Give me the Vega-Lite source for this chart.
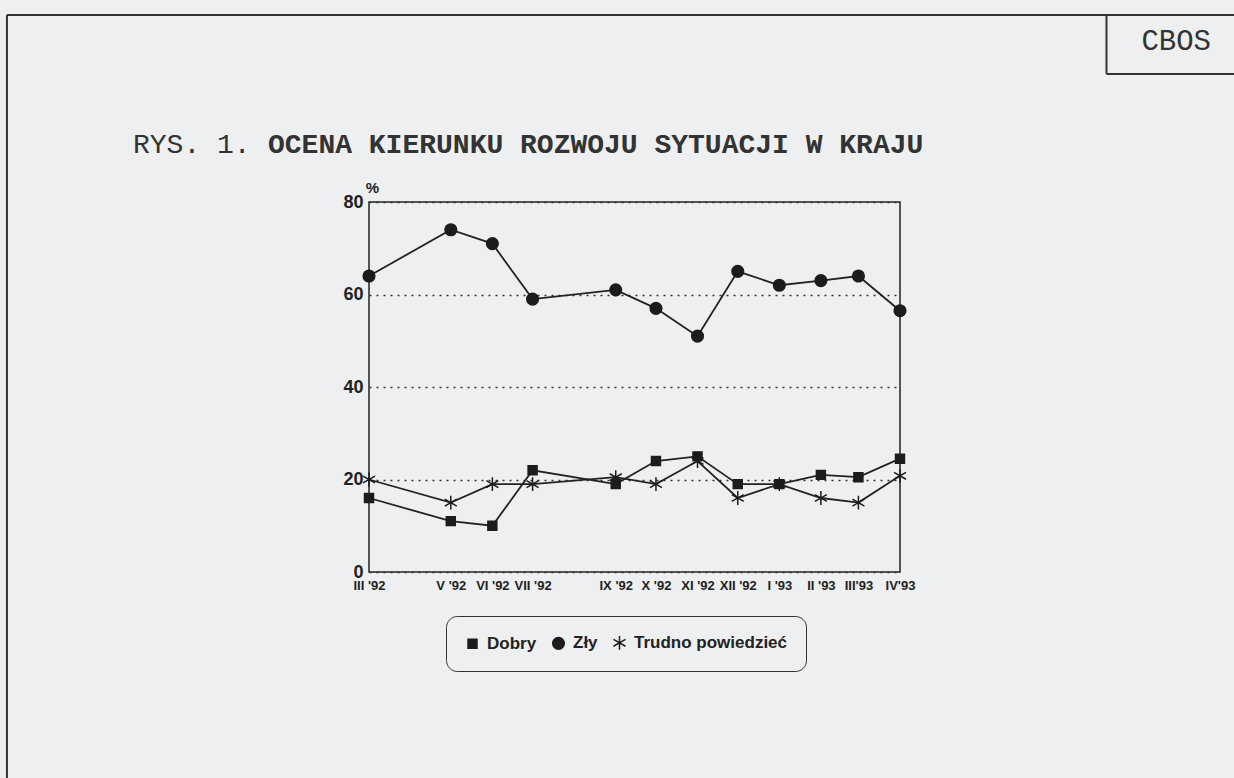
{
  "$schema": "https://vega.github.io/schema/vega-lite/v6.json",
  "width": 531,
  "height": 370,
  "autosize": {"type": "none"},
  "padding": {"left": 369, "top": 202, "right": 334, "bottom": 206},
  "background": "#edeff0",
  "title": {
    "text": "OCENA KIERUNKU ROZWOJU SYTUACJI W KRAJU",
    "anchor": "start",
    "frame": "group",
    "font": "Liberation Mono",
    "fontSize": 28,
    "fontWeight": "bold",
    "color": "#333",
    "dx": -101,
    "dy": 165,
    "offset": 20
  },
  "data": {
    "values": [
      {"date": "1992-03-01T00:00", "series": "Dobry", "value": 16},
      {"date": "1992-05-01T00:00", "series": "Dobry", "value": 11},
      {"date": "1992-06-01T00:00", "series": "Dobry", "value": 10},
      {"date": "1992-07-01T00:00", "series": "Dobry", "value": 22},
      {"date": "1992-09-01T00:00", "series": "Dobry", "value": 19},
      {"date": "1992-10-01T00:00", "series": "Dobry", "value": 24},
      {"date": "1992-11-01T00:00", "series": "Dobry", "value": 25},
      {"date": "1992-12-01T00:00", "series": "Dobry", "value": 19},
      {"date": "1993-01-01T00:00", "series": "Dobry", "value": 19},
      {"date": "1993-02-01T00:00", "series": "Dobry", "value": 21},
      {"date": "1993-03-01T00:00", "series": "Dobry", "value": 20.5},
      {"date": "1993-04-01T00:00", "series": "Dobry", "value": 24.5},
      {"date": "1992-03-01T00:00", "series": "Zły", "value": 64},
      {"date": "1992-05-01T00:00", "series": "Zły", "value": 74},
      {"date": "1992-06-01T00:00", "series": "Zły", "value": 71},
      {"date": "1992-07-01T00:00", "series": "Zły", "value": 59},
      {"date": "1992-09-01T00:00", "series": "Zły", "value": 61},
      {"date": "1992-10-01T00:00", "series": "Zły", "value": 57},
      {"date": "1992-11-01T00:00", "series": "Zły", "value": 51},
      {"date": "1992-12-01T00:00", "series": "Zły", "value": 65},
      {"date": "1993-01-01T00:00", "series": "Zły", "value": 62},
      {"date": "1993-02-01T00:00", "series": "Zły", "value": 63},
      {"date": "1993-03-01T00:00", "series": "Zły", "value": 64},
      {"date": "1993-04-01T00:00", "series": "Zły", "value": 56.5},
      {"date": "1992-03-01T00:00", "series": "Trudno powiedzieć", "value": 20},
      {"date": "1992-05-01T00:00", "series": "Trudno powiedzieć", "value": 15},
      {"date": "1992-06-01T00:00", "series": "Trudno powiedzieć", "value": 19},
      {"date": "1992-07-01T00:00", "series": "Trudno powiedzieć", "value": 19},
      {"date": "1992-09-01T00:00", "series": "Trudno powiedzieć", "value": 20.5},
      {"date": "1992-10-01T00:00", "series": "Trudno powiedzieć", "value": 19},
      {"date": "1992-11-01T00:00", "series": "Trudno powiedzieć", "value": 24},
      {"date": "1992-12-01T00:00", "series": "Trudno powiedzieć", "value": 16},
      {"date": "1993-01-01T00:00", "series": "Trudno powiedzieć", "value": 19},
      {"date": "1993-02-01T00:00", "series": "Trudno powiedzieć", "value": 16},
      {"date": "1993-03-01T00:00", "series": "Trudno powiedzieć", "value": 15},
      {"date": "1993-04-01T00:00", "series": "Trudno powiedzieć", "value": 20.8}
    ]
  },
  "layer": [
    {
      "mark": {"type": "line", "color": "#222", "strokeWidth": 1.8},
      "encoding": {
        "x": {
          "field": "date",
          "type": "temporal",
          "scale": {"domain": [{"year": 1992, "month": 3, "date": 1}, {"year": 1993, "month": 4, "date": 1}], "nice": false},
          "axis": {
            "title": null,
            "values": [
              {"year": 1992, "month": 3, "date": 1},
              {"year": 1992, "month": 5, "date": 1},
              {"year": 1992, "month": 6, "date": 1},
              {"year": 1992, "month": 7, "date": 1},
              {"year": 1992, "month": 9, "date": 1},
              {"year": 1992, "month": 10, "date": 1},
              {"year": 1992, "month": 11, "date": 1},
              {"year": 1992, "month": 12, "date": 1},
              {"year": 1993, "month": 1, "date": 1},
              {"year": 1993, "month": 2, "date": 1},
              {"year": 1993, "month": 3, "date": 1},
              {"year": 1993, "month": 4, "date": 1}
            ],
            "labelExpr": "['I','II','III','IV','V','VI','VII','VIII','IX','X','XI','XII'][month(datum.value)] + ((year(datum.value) == 1993 && month(datum.value) >= 2) ? \"'\" : \" '\") + timeFormat(datum.value, '%y')",
            "grid": false,
            "ticks": false,
            "domain": false,
            "labelFont": "Liberation Sans",
            "labelFontSize": 13,
            "labelFontWeight": "bold",
            "labelColor": "#222",
            "labelPadding": 7,
            "labelOverlap": false,
            "labelFlush": false
          }
        },
        "y": {
          "field": "value",
          "type": "quantitative",
          "scale": {"domain": [0, 80], "nice": false},
          "axis": {
            "title": "%",
            "titleAngle": 0,
            "titleX": 3,
            "titleY": -15,
            "titleAlign": "center",
            "titleBaseline": "middle",
            "titleFont": "Liberation Sans",
            "titleFontSize": 15,
            "titleFontWeight": "bold",
            "titleColor": "#222",
            "values": [0, 20, 40, 60, 80],
            "grid": true,
            "gridColor": "#333",
            "gridDash": [2, 5],
            "gridWidth": 1.5,
            "ticks": false,
            "domain": false,
            "labelFont": "Liberation Sans",
            "labelFontSize": 18,
            "labelFontWeight": "bold",
            "labelColor": "#222",
            "labelPadding": 6
          }
        },
        "detail": {"field": "series", "type": "nominal"}
      }
    },
    {
      "mark": {"type": "point", "filled": true, "color": "#1c1c1c", "stroke": "#1c1c1c", "strokeWidth": 1.5, "opacity": 1},
      "encoding": {
        "x": {"field": "date", "type": "temporal"},
        "y": {"field": "value", "type": "quantitative"},
        "shape": {
          "field": "series",
          "type": "nominal",
          "scale": {
            "domain": ["Dobry", "Zły", "Trudno powiedzieć"],
            "range": ["square", "circle", "M0,-1L0,1M-0.87,-0.5L0.87,0.5M-0.87,0.5L0.87,-0.5"]
          },
          "legend": {
            "title": null,
            "orient": "none",
            "direction": "horizontal",
            "legendX": 77,
            "legendY": 414,
            "padding": 18,
            "strokeColor": "#333",
            "cornerRadius": 11,
            "labelFont": "Liberation Sans",
            "labelFontSize": 17,
            "labelFontWeight": "bold",
            "labelColor": "#222",
            "labelOffset": 6,
            "columnPadding": 12,
            "symbolFillColor": "#1c1c1c",
            "symbolStrokeColor": "#1c1c1c",
            "symbolStrokeWidth": 1.5
          }
        },
        "size": {
          "field": "series",
          "type": "nominal",
          "scale": {"domain": ["Dobry", "Zły", "Trudno powiedzieć"], "range": [80, 190, 180]}
        }
      }
    },
    {
      "data": {"values": [{}]},
      "mark": {"type": "text", "font": "Liberation Mono", "fontSize": 28, "fontWeight": "normal", "color": "#333", "align": "left", "baseline": "alphabetic"},
      "encoding": {
        "x": {"datum": {"year": 1991, "month": 9, "date": 7}, "type": "temporal"},
        "y": {"datum": 90.6, "type": "quantitative"},
        "text": {"value": "RYS. 1."}
      }
    },
    {
      "data": {"values": [{}]},
      "mark": {"type": "rule", "color": "#333", "strokeWidth": 2},
      "encoding": {
        "x": {"datum": {"year": 1991, "month": 6, "date": 5}, "type": "temporal"},
        "y": {"datum": -50, "type": "quantitative"},
        "y2": {"datum": 120.43}
      }
    },
    {
      "data": {"values": [{}]},
      "mark": {"type": "rule", "color": "#333", "strokeWidth": 2},
      "encoding": {
        "y": {"datum": 120.43, "type": "quantitative"},
        "x": {"datum": {"year": 1991, "month": 6, "date": 5}, "type": "temporal"},
        "x2": {"datum": {"year": 1994, "month": 1, "date": 1}}
      }
    },
    {
      "data": {"values": [{}]},
      "mark": {"type": "rule", "color": "#333", "strokeWidth": 2},
      "encoding": {
        "x": {"datum": {"year": 1993, "month": 9, "date": 2}, "type": "temporal"},
        "y": {"datum": 107.7, "type": "quantitative"},
        "y2": {"datum": 120.43}
      }
    },
    {
      "data": {"values": [{}]},
      "mark": {"type": "rule", "color": "#333", "strokeWidth": 2},
      "encoding": {
        "y": {"datum": 107.7, "type": "quantitative"},
        "x": {"datum": {"year": 1993, "month": 9, "date": 2}, "type": "temporal"},
        "x2": {"datum": {"year": 1994, "month": 1, "date": 1}}
      }
    },
    {
      "data": {"values": [{}]},
      "mark": {"type": "text", "font": "Liberation Mono", "fontSize": 29, "color": "#333", "align": "center", "baseline": "middle"},
      "encoding": {
        "x": {"datum": {"year": 1993, "month": 10, "date": 24}, "type": "temporal"},
        "y": {"datum": 114.8, "type": "quantitative"},
        "text": {"value": "CBOS"}
      }
    }
  ],
  "config": {
    "view": {"stroke": "#222", "strokeWidth": 1.5, "fill": null}
  }
}
